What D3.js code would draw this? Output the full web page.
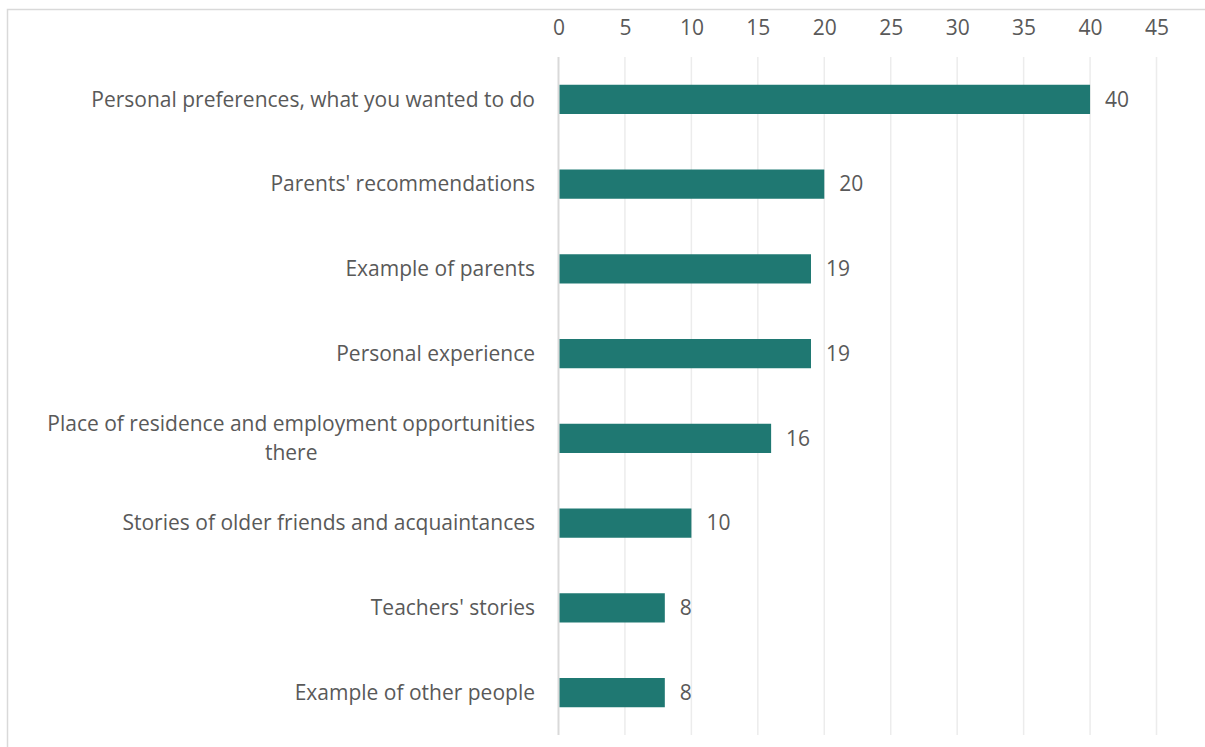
<!DOCTYPE html>
<html>
<head>
<meta charset="utf-8">
<script src="https://cdn.jsdelivr.net/npm/d3@7"></script>
<style>
  html, body { margin: 0; padding: 0; background: #fff; }
  svg { display: block; }
  text { font-family: "Open Sans", Lato, sans-serif; fill: #595959; }
</style>
</head>
<body>
<svg id="chart" width="1205" height="747"></svg>
<script>
// Survey answers: what influenced the choice of profession
const categories = [
  "Personal preferences, what you wanted to do",
  "Parents' recommendations",
  "Example of parents",
  "Personal experience",
  "Place of residence and employment opportunities there",
  "Stories of older friends and acquaintances",
  "Teachers' stories",
  "Example of other people"
];
const values = [40, 20, 19, 19, 16, 10, 8, 8];
const tickValues = [0, 5, 10, 15, 20, 25, 30, 35, 40, 45];

const svg = d3.select("#chart");
const fontSize = 21;

// chart frame
svg.append("rect")
  .attr("x", 7.5).attr("y", 9.5)
  .attr("width", 1300).attr("height", 800)
  .attr("fill", "none")
  .attr("stroke", "#d9d9d9")
  .attr("stroke-width", 1.5);

const x = d3.scaleLinear().domain([0, 45]).range([558.5, 1156.5]);
const y = d3.scaleBand().domain(categories).range([57, 735])
  .paddingInner(0.655).paddingOuter(0.3275);

// vertical gridlines
svg.append("g")
  .selectAll("line")
  .data(tickValues.filter(d => d > 0))
  .join("line")
  .attr("x1", d => x(d)).attr("x2", d => x(d))
  .attr("y1", 57).attr("y2", 735)
  .attr("stroke", "#ececec")
  .attr("stroke-width", 1.5);

// category axis line
svg.append("line")
  .attr("x1", x(0)).attr("x2", x(0))
  .attr("y1", 57).attr("y2", 735)
  .attr("stroke", "#d9d9d9")
  .attr("stroke-width", 2);

// top value axis
const xAxis = d3.axisTop(x).tickValues(tickValues).tickSize(0).tickPadding(0);
const gx = svg.append("g").attr("transform", "translate(0,35)").call(xAxis);
gx.select(".domain").remove();
gx.selectAll("text")
  .attr("font-size", fontSize)
  .attr("dy", 0)
  .style("font-family", "'Open Sans', Lato, sans-serif")
  .attr("fill", "#595959");

// bars
svg.append("g")
  .selectAll("rect")
  .data(values)
  .join("rect")
  .attr("x", x(0) + 1)
  .attr("y", (d, i) => y(categories[i]))
  .attr("width", d => x(d) - x(0) - 1)
  .attr("height", y.bandwidth())
  .attr("fill", "#1f7872");

// value labels
svg.append("g")
  .selectAll("text")
  .data(values)
  .join("text")
  .attr("x", d => x(d) + 15)
  .attr("y", (d, i) => y(categories[i]) + y.bandwidth() / 2)
  .attr("dy", "0.35em")
  .attr("font-size", fontSize)
  .text(d => d);

// category labels, wrapped when wider than the label column
const labelRight = 535;
const maxWidth = 495;
const lineHeight = 29;
const labels = svg.append("g");

categories.forEach((cat, i) => {
  const cy = y(cat) + y.bandwidth() / 2;
  const probe = labels.append("text").attr("font-size", fontSize).text(cat);
  if (probe.node().getComputedTextLength() <= maxWidth) {
    probe.attr("x", labelRight).attr("y", cy).attr("dy", "0.35em")
      .attr("text-anchor", "end");
    return;
  }
  // break words into lines
  const words = cat.split(" ");
  const lines = [];
  let line = [];
  words.forEach(w => {
    line.push(w);
    probe.text(line.join(" "));
    if (probe.node().getComputedTextLength() > maxWidth && line.length > 1) {
      line.pop();
      lines.push(line.join(" "));
      line = [w];
    }
  });
  lines.push(line.join(" "));
  let widest = 0;
  lines.forEach(l => {
    probe.text(l);
    widest = Math.max(widest, probe.node().getComputedTextLength());
  });
  probe.text(null);
  const cx = labelRight - widest / 2;
  const top = cy - (lines.length - 1) * lineHeight / 2;
  probe.attr("text-anchor", "middle");
  lines.forEach((l, k) => {
    probe.append("tspan")
      .attr("x", cx)
      .attr("y", top + k * lineHeight)
      .attr("dy", "0.35em")
      .text(l);
  });
});
</script>
</body>
</html>
